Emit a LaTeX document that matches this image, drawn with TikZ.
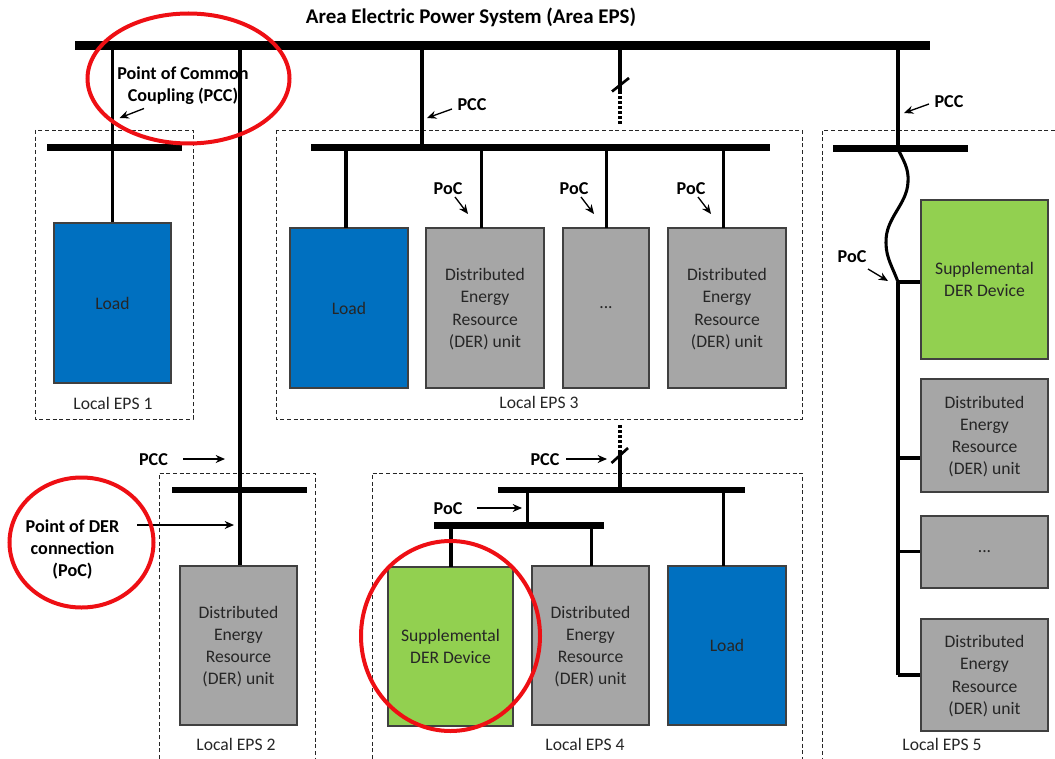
\documentclass[tikz,border=0pt]{standalone}
\usepackage{fontspec}
\setmainfont{Carlito}
\usetikzlibrary{arrows.meta}
\definecolor{loadblue}{HTML}{0070C0}
\definecolor{dergreen}{HTML}{92D050}
\definecolor{dergrey}{HTML}{A6A6A6}
\definecolor{ringred}{HTML}{EE0F14}
\tikzset{
  x=0.75pt,y=-0.75pt,
  busbar/.style={fill=black,draw=none,inner sep=0pt,minimum height=#1*0.75pt},
  busbar/.default=7,
  feeder/.style={line width=2.3pt},
  area/.style={dash pattern=on 3pt off 2pt,line width=0.6pt,black!85},
  unit/.style={draw=black!75,line width=0.8pt,inner sep=0pt,align=center,font=\fontsize{13.2}{16.6}\selectfont,text=black!85},
  loadbox/.style={unit,fill=loadblue},
  derbox/.style={unit,fill=dergrey},
  greenbox/.style={unit,fill=dergreen},
  tag/.style={inner sep=0pt,yshift=-0.75pt,font=\fontsize{13.6}{16.5}\selectfont\bfseries,align=center},
  eps/.style={inner sep=0pt,font=\fontsize{13.2}{14}\selectfont,text=black!85},
  pointer/.style={-{Stealth[length=7pt,width=6pt]},line width=1pt},
  ring/.style={draw=ringred,line width=3pt},
  tick/.style={line width=2pt},
  dots/.style={line width=2.3pt,dash pattern=on 1.9pt off 1.9pt},
}
\newcommand{\boxat}[7]{\node[#1,minimum width=#5*0.75pt-#4*0.75pt,minimum height=#3*0.75pt-#2*0.75pt] (#6) at ({(#4+#5)/2},{(#2+#3)/2}) {#7};}
\newcommand{\dertext}{\rule{0pt}{10.8pt}Distributed\\Energy\\Resource\\(DER) unit}
\begin{document}
\begin{tikzpicture}
\useasboundingbox (0,0) rectangle (1055,759);
% dashed areas
\draw[area] (35,130) rectangle (193,419);
\draw[area] (276,130) rectangle (802,419);
\draw[area] (159,759) -- (159,473) -- (315,473) -- (315,759);
\draw[area] (372,759) -- (372,473) -- (802,473) -- (802,759);
\draw[area] (1055,130.5) -- (822,130.5) -- (822,759);
% junction coordinates
\coordinate (a1) at (112.5,45);
\coordinate (a2) at (240,45);
\coordinate (a3) at (422,45);
\coordinate (a4) at (620,45);
\coordinate (a5) at (898,45);
\coordinate (s3) at (620,91);
\coordinate (d3) at (620,125);
\coordinate (j3) at (422,148);
\coordinate (d4) at (620,425);
\coordinate (s4) at (620,450);
\coordinate (j4) at (620,490);
\coordinate (j5) at (898,149);
\coordinate (k5) at (898,282);
\coordinate (l5a) at (898,458);
\coordinate (l5b) at (898,551.5);
\coordinate (l5c) at (898,675);
% units
\boxat{loadbox}{223}{383}{54}{171}{load1}{Load}
\boxat{loadbox}{228}{388}{290}{408}{load3}{Load}
\boxat{derbox}{228}{388}{426}{544}{der3a}{\dertext}
\boxat{derbox}{228}{388}{563}{649}{der3b}{...}
\boxat{derbox}{228}{388}{668}{786}{der3c}{\dertext}
\boxat{derbox}{566}{725}{180}{297}{der2}{\dertext}
\boxat{greenbox}{567}{726}{388}{513}{sup4}{Supplemental\\DER Device}
\boxat{derbox}{566}{725}{532}{649}{der4}{\dertext}
\boxat{loadbox}{566}{725}{668}{786}{load4}{Load}
\boxat{greenbox}{200}{359}{921}{1048}{sup5}{Supplemental\\DER Device}
\boxat{derbox}{379}{492}{921}{1048}{der5a}{\dertext}
\boxat{derbox}{516}{588}{921}{1048}{der5b}{...}
\boxat{derbox}{619}{731}{921}{1048}{der5c}{\dertext}
% feeders
\draw[feeder] (a1) -- (a1 |- load1.north);
\draw[feeder] (a2) -- (a2 |- der2.north);
\draw[feeder] (a3) -- (j3);
\draw[feeder] (a4) -- (s3);
\draw[dots] (s3) -- (d3);
\draw[tick] (612,91.5) -- (629,78);
\draw[feeder] (a5) -- (j5);
\draw[feeder] (346,148) -- (346,228);
\draw[feeder] (481.5,148) -- (481.5,228);
\draw[feeder] (606.5,148) -- (606.5,228);
\draw[feeder] (723.5,148) -- (723.5,228);
\draw[dots] (d4) -- (s4);
\draw[feeder] (s4) -- (j4);
\draw[tick] (611.5,463) -- (628,448);
\draw[feeder] (527.5,490) -- (527.5,526);
\draw[feeder] (451,526) -- (451,567);
\draw[feeder] (591.5,526) -- (591.5,566);
\draw[feeder] (723.5,490) -- (723.5,566);
\draw[feeder] (j5) .. controls (903,160) and (909,168) .. (908,182) .. controls (907,205) and (885,218) .. (886,243) .. controls (886,258) and (893,268) .. (k5);
\draw[feeder] (k5) -- (l5c);
\draw[feeder] (k5) -- (k5 -| sup5.west);
\draw[feeder] (l5a) -- (l5a -| der5a.west);
\draw[feeder] (l5b) -- (l5b -| der5b.west);
\draw[feeder] (l5c) -- (l5c -| der5c.west);
% bus bars
\boxat{busbar=9}{41}{50}{75}{930}{mainbus}{}
\boxat{busbar}{144}{151}{47}{182}{bus1}{}
\boxat{busbar}{144}{151}{311}{770}{bus3}{}
\boxat{busbar}{145}{152}{833}{968}{bus5}{}
\boxat{busbar}{486.5}{493}{172}{307}{bus2}{}
\boxat{busbar}{487}{493}{498}{745}{bus4a}{}
\boxat{busbar}{522}{529}{434}{604}{bus4b}{}
% labels
\node[inner sep=0pt,font=\fontsize{15.7}{18}\selectfont\bfseries] (title) at (471,17) {Area Electric Power System (Area EPS)};
\node[tag] (pcc0) at (183,85) {Point of Common\\Coupling (PCC)};
\coordinate (pcc0a) at (144,108.5); \coordinate (pcc0b) at (119.5,118);
\draw[pointer] (pcc0a) -- (pcc0b);
\node[tag] (pcc3) at (472,104) {PCC};
\coordinate (pcc3a) at (452,109); \coordinate (pcc3b) at (427,118);
\draw[pointer] (pcc3a) -- (pcc3b);
\node[tag] (pcc5) at (949,101) {PCC};
\coordinate (pcc5a) at (929,104); \coordinate (pcc5b) at (904,113);
\draw[pointer] (pcc5a) -- (pcc5b);
\node[tag] (poc3a) at (448,188) {PoC};
\coordinate (p3a) at (455,197); \coordinate (p3b) at (468,214);
\draw[pointer] (p3a) -- (p3b);
\node[tag] (poc3b) at (574,188) {PoC};
\coordinate (p3c) at (581,197); \coordinate (p3d) at (594,214);
\draw[pointer] (p3c) -- (p3d);
\node[tag] (poc3c) at (691,188) {PoC};
\coordinate (p3e) at (698,197); \coordinate (p3f) at (711,214);
\draw[pointer] (p3e) -- (p3f);
\node[tag] (poc5) at (852,256) {PoC};
\coordinate (p5a) at (868,269); \coordinate (p5b) at (888,281);
\draw[pointer] (p5a) -- (p5b);
\node[tag] (pcc2) at (153.5,459) {PCC};
\coordinate (p2a) at (183,459); \coordinate (p2b) at (225,459);
\draw[pointer] (p2a) -- (p2b);
\node[tag] (der0) at (72.5,548.5) {Point of DER\\connection\\(PoC)};
\coordinate (d0a) at (137,525); \coordinate (d0b) at (234,525);
\draw[pointer] (d0a) -- (d0b);
\node[tag] (pcc4) at (545,459) {PCC};
\coordinate (p4a) at (566,459); \coordinate (p4b) at (607,459);
\draw[pointer] (p4a) -- (p4b);
\node[tag] (poc4) at (448,508) {PoC};
\coordinate (p4c) at (477,508); \coordinate (p4d) at (522,508);
\draw[pointer] (p4c) -- (p4d);
\node[eps] (eps1) at (113,403) {Local EPS 1};
\node[eps] (eps2) at (236,744) {Local EPS 2};
\node[eps] (eps3) at (539,402) {Local EPS 3};
\node[eps] (eps4) at (585,744) {Local EPS 4};
\node[eps] (eps5) at (942,744) {Local EPS 5};
% rings
\draw[ring] (188.5,78.5) ellipse [x radius=101,y radius=65];
\draw[ring] (81.5,542.5) ellipse [x radius=72,y radius=65];
\draw[ring] (450.5,636) ellipse [x radius=89.5,y radius=95];
\end{tikzpicture}
\end{document}
